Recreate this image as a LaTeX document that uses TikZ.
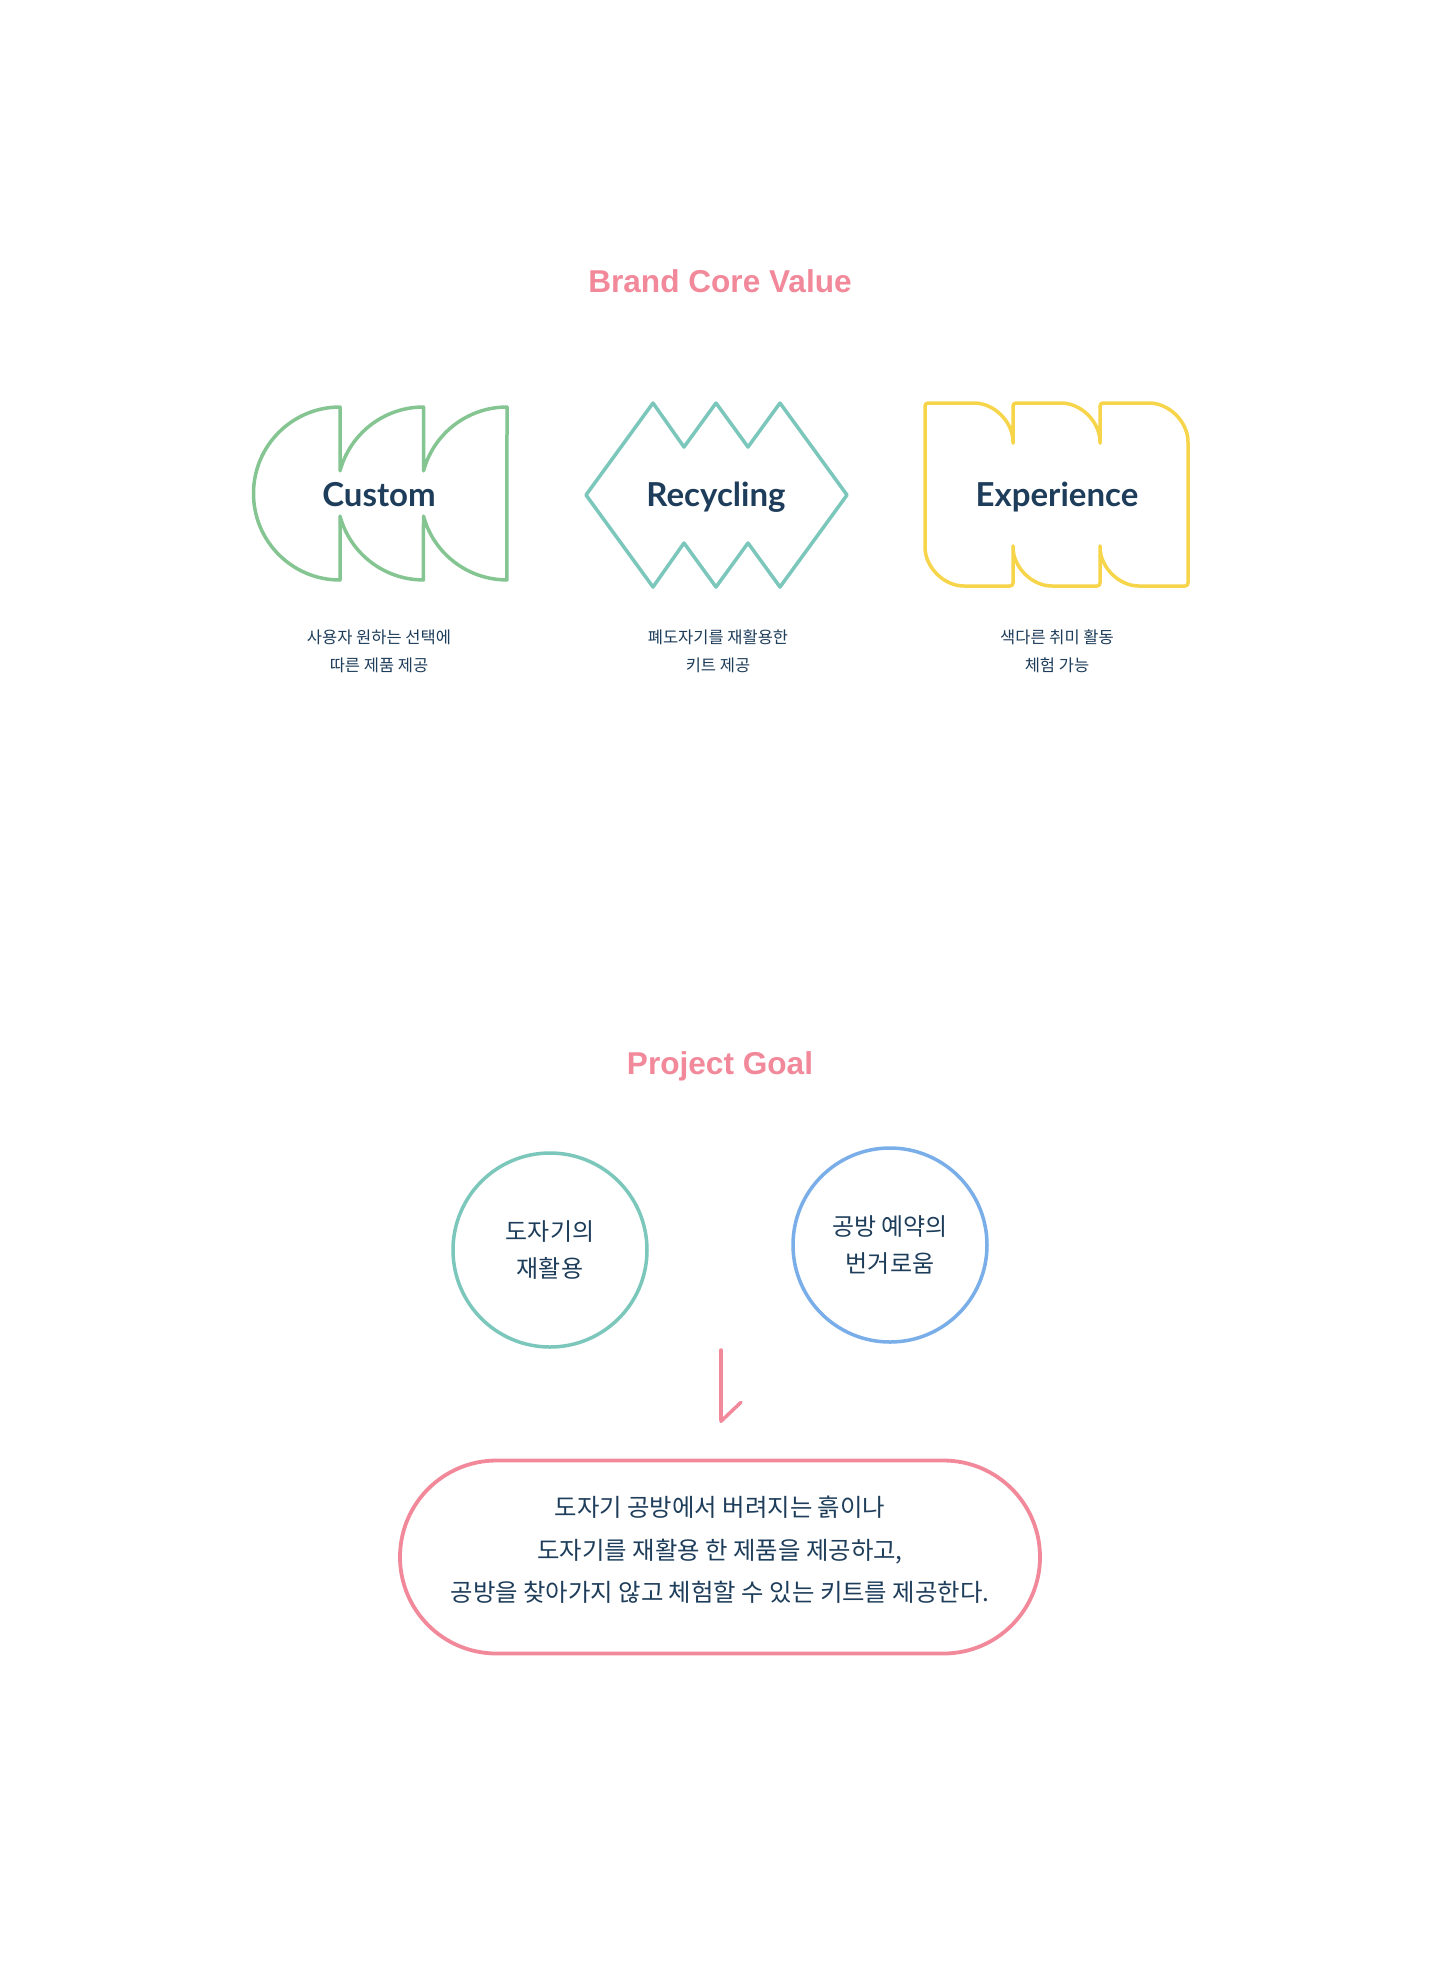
\documentclass[tikz,border=0pt]{standalone}
\usepackage{fontspec}
\setmainfont{Lato}
\newfontfamily\krfont{Noto Sans CJK KR}
\newfontfamily\headfont{Liberation Sans}
\usetikzlibrary{shapes.misc, arrows.meta, positioning}
\definecolor{navy}{HTML}{1E3D5A}
\definecolor{rose}{HTML}{F2899B}
\definecolor{leaf}{HTML}{84C592}
\definecolor{mint}{HTML}{7CC7BB}
\definecolor{sun}{HTML}{F6D54A}
\definecolor{sky}{HTML}{79AEE8}
\tikzset{
  heading/.style = {font=\headfont\bfseries\fontsize{15.8}{19}\selectfont,
    text=rose, anchor=base, inner sep=0pt},
  valuename/.style = {font=\bfseries\fontsize{16.5}{20}\selectfont,
    text=navy, anchor=base, inner sep=0pt},
  valuenote/.style = {font=\krfont\fontsize{8.25}{14}\selectfont,
    text=navy, align=center, inner sep=0pt},
  shapeline/.style = {line width=1.75pt, line join=round, line cap=round},
  goal/.style = {circle, draw, line width=1.75pt, minimum size=97pt,
    inner sep=0pt, align=center, text=navy,
    font=\krfont\fontsize{12}{18.4}\selectfont},
  pill/.style = {rounded rectangle, draw=rose, line width=1.9pt,
    minimum width=320pt, minimum height=96.5pt, inner sep=0pt},
  plantext/.style = {align=center, text=navy, inner sep=0pt,
    font=\krfont\fontsize{12.2}{21.3}\selectfont}
}
\begin{document}
\begin{tikzpicture}[x=0.5pt, y=0.5pt]
\fill[white] (0,0) rectangle (1440,-1988);
\useasboundingbox (0,0) rectangle (1440,-1988);

\node[heading] (brand) at (720,-292) {Brand Core Value};

\draw[shapeline, leaf] (340,-407) arc[start angle=90, end angle=270, radius=86.5]
  -- (340,-516.1) arc[start angle=195.2, end angle=270, radius=86.5]
  -- (423.5,-516.1) arc[start angle=195.2, end angle=270, radius=86.5]
  -- (507,-407) arc[start angle=90, end angle=164.8, radius=86.5]
  -- (423.5,-407) arc[start angle=90, end angle=164.8, radius=86.5]
  -- cycle;
\draw[shapeline, mint] (586,-495) -- (653,-403) -- (684,-447) -- (716,-403)
  -- (748,-447) -- (780,-403) -- (847,-495) -- (780,-587) -- (748,-543)
  -- (716,-587) -- (684,-543) -- (653,-587) -- cycle;
\draw[shapeline, sun, rounded corners=1.5pt] (925,-403)
  -- (971,-403) arc[start angle=90, end angle=0, radius=42]
  -- (1013,-403) -- (1058,-403) arc[start angle=90, end angle=0, radius=42]
  -- (1100,-403) -- (1146,-403) arc[start angle=90, end angle=0, radius=42]
  -- (1188,-586) -- (1142,-586) arc[start angle=270, end angle=180, radius=42]
  -- (1100,-586) -- (1055,-586) arc[start angle=270, end angle=180, radius=42]
  -- (1013,-586) -- (967,-586) arc[start angle=270, end angle=180, radius=42]
  -- cycle;

\node[valuename] (custom) at (379,-506.5) {Custom};
\node[valuename] (recycling) at (716,-506.5) {Recycling};
\node[valuename] (experience) at (1057,-506.5) {Experience};
\node[valuenote] (customnote) at (379,-651) {사용자 원하는 선택에\\따른 제품 제공};
\node[valuenote] (recyclingnote) at (718,-651) {폐도자기를 재활용한\\키트 제공};
\node[valuenote] (experiencenote) at (1057,-651) {색다른 취미 활동\\체험 가능};

\node[heading] (project) at (720,-1074) {Project Goal};

\node[goal, draw=mint] (reuse) at (550,-1250) {도자기의\\재활용};
\node[goal, draw=sky] (booking) at (890,-1245) {공방 예약의\\번거로움};

\coordinate (arrowtop) at (721,-1350);
\coordinate (arrowend) at (721,-1423);
\draw[rose, line width=1.75pt, line cap=round,
  -{Straight Barb[left, length=9.5pt, width=20pt, round]}] (arrowtop) -- (arrowend);

\node[pill] (plan) at (720,-1557) {};
\node[plantext] (plantext) at ([yshift=3.5pt]plan.center) {도자기 공방에서 버려지는 흙이나\\
  도자기를 재활용 한 제품을 제공하고,\\
  공방을 찾아가지 않고 체험할 수 있는 키트를 제공한다.};
\end{tikzpicture}
\end{document}
